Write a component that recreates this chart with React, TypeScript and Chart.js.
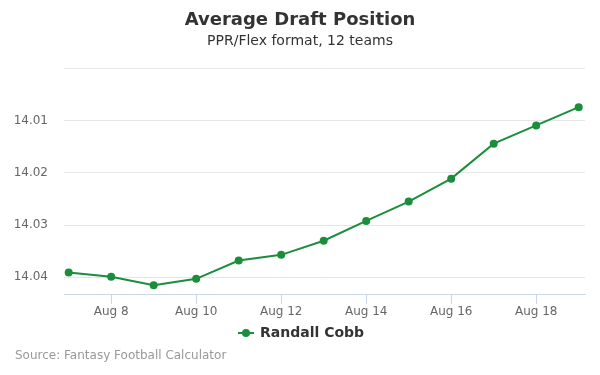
import React, { useEffect, useRef } from "react";
import { Chart, registerables } from "chart.js";

Chart.register(...registerables);

const days: number[] = [7, 8, 9, 10, 11, 12, 13, 14, 15, 16, 17, 18, 19];
const adp: number[] = [
  14.0391, 14.0399, 14.0415, 14.0403, 14.0368, 14.0357, 14.033, 14.0292,
  14.0255, 14.0211, 14.0144, 14.0109, 14.0074,
];
const xTicks: number[] = [8, 10, 12, 14, 16, 18];
const yTicks: number[] = [14.0, 14.01, 14.02, 14.03, 14.04];
const monthLabel = "Aug";
const seriesName = "Randall Cobb";
const titleText = "Average Draft Position";
const subtitleText = "PPR/Flex format, 12 teams";
const sourceText = "Source: Fantasy Football Calculator";

const GREEN = "#1b8e3c";
const FONT = "'DejaVu Sans', sans-serif";

export default function App() {
  const ref = useRef<HTMLCanvasElement | null>(null);

  useEffect(() => {
    if (!ref.current) return;
    const decor = {
      id: "decor",
      afterDraw(chart: any) {
        const ctx = chart.ctx;
        ctx.save();
        ctx.textBaseline = "middle";
        ctx.textAlign = "center";
        ctx.fillStyle = "#333333";
        ctx.font = `bold 18px ${FONT}`;
        ctx.fillText(titleText, 300, 20);
        ctx.font = `14px ${FONT}`;
        ctx.fillText(subtitleText, 300, 41);

        // legend
        ctx.strokeStyle = GREEN;
        ctx.lineWidth = 2;
        ctx.beginPath();
        ctx.moveTo(238, 333);
        ctx.lineTo(254, 333);
        ctx.stroke();
        ctx.fillStyle = GREEN;
        ctx.beginPath();
        ctx.arc(246, 333, 4, 0, Math.PI * 2);
        ctx.fill();
        ctx.textAlign = "left";
        ctx.fillStyle = "#333333";
        ctx.font = `bold 14px ${FONT}`;
        ctx.fillText(seriesName, 260, 333);

        // source
        ctx.fillStyle = "#999999";
        ctx.font = `12px ${FONT}`;
        ctx.fillText(sourceText, 15, 356);
        ctx.restore();
      },
    };

    const chart = new Chart(ref.current, {
      type: "line",
      data: {
        datasets: [
          {
            label: seriesName,
            data: days.map((d, i) => ({ x: d, y: adp[i] })),
            borderColor: GREEN,
            backgroundColor: GREEN,
            borderWidth: 2,
            pointRadius: 4,
            pointHoverRadius: 4,
            pointBackgroundColor: GREEN,
            pointBorderWidth: 0,
            tension: 0,
          },
        ],
      },
      options: {
        animation: false,
        responsive: false,
        devicePixelRatio: 1,
        layout: { padding: { top: 68.5, bottom: 51, left: 0, right: 15 } },
        plugins: {
          legend: { display: false },
          title: { display: false },
          tooltip: { enabled: false },
        },
        scales: {
          x: {
            type: "linear",
            min: 6.89,
            max: 19.148,
            afterFit: (s: any) => {
              s.height = 30;
            },
            afterBuildTicks: (s: any) => {
              s.ticks = xTicks.map((v) => ({ value: v }));
            },
            grid: {
              drawOnChartArea: false,
              drawTicks: true,
              tickLength: 10,
              color: "#ccd6eb",
            },
            border: { display: true, color: "#ccd6eb", width: 1 },
            ticks: {
              autoSkip: false,
              maxRotation: 0,
              padding: 1,
              color: "#666666",
              font: { family: FONT, size: 12 },
              callback: (v: any) => `${monthLabel} ${v}`,
            },
          },
          y: {
            type: "linear",
            reverse: true,
            min: 14.0,
            max: 14.0432,
            afterFit: (s: any) => {
              s.width = 64;
            },
            afterBuildTicks: (s: any) => {
              s.ticks = yTicks.map((v) => ({ value: v }));
            },
            grid: {
              drawTicks: false,
              color: "#e6e6e6",
              lineWidth: 1,
            },
            border: { display: false },
            ticks: {
              padding: 16,
              color: "#666666",
              font: { family: FONT, size: 12 },
              callback: (v: any) => (Math.abs(v - 14.0) < 1e-6 ? "" : Number(v).toFixed(2)),
            },
          },
        },
      },
      plugins: [decor],
    });
    return () => chart.destroy();
  }, []);

  return (
    <div style={{ position: "fixed", left: 0, top: 0, width: 600, height: 375, background: "#ffffff" }}>
      <canvas ref={ref} width={600} height={375} style={{ display: "block" }} />
    </div>
  );
}
